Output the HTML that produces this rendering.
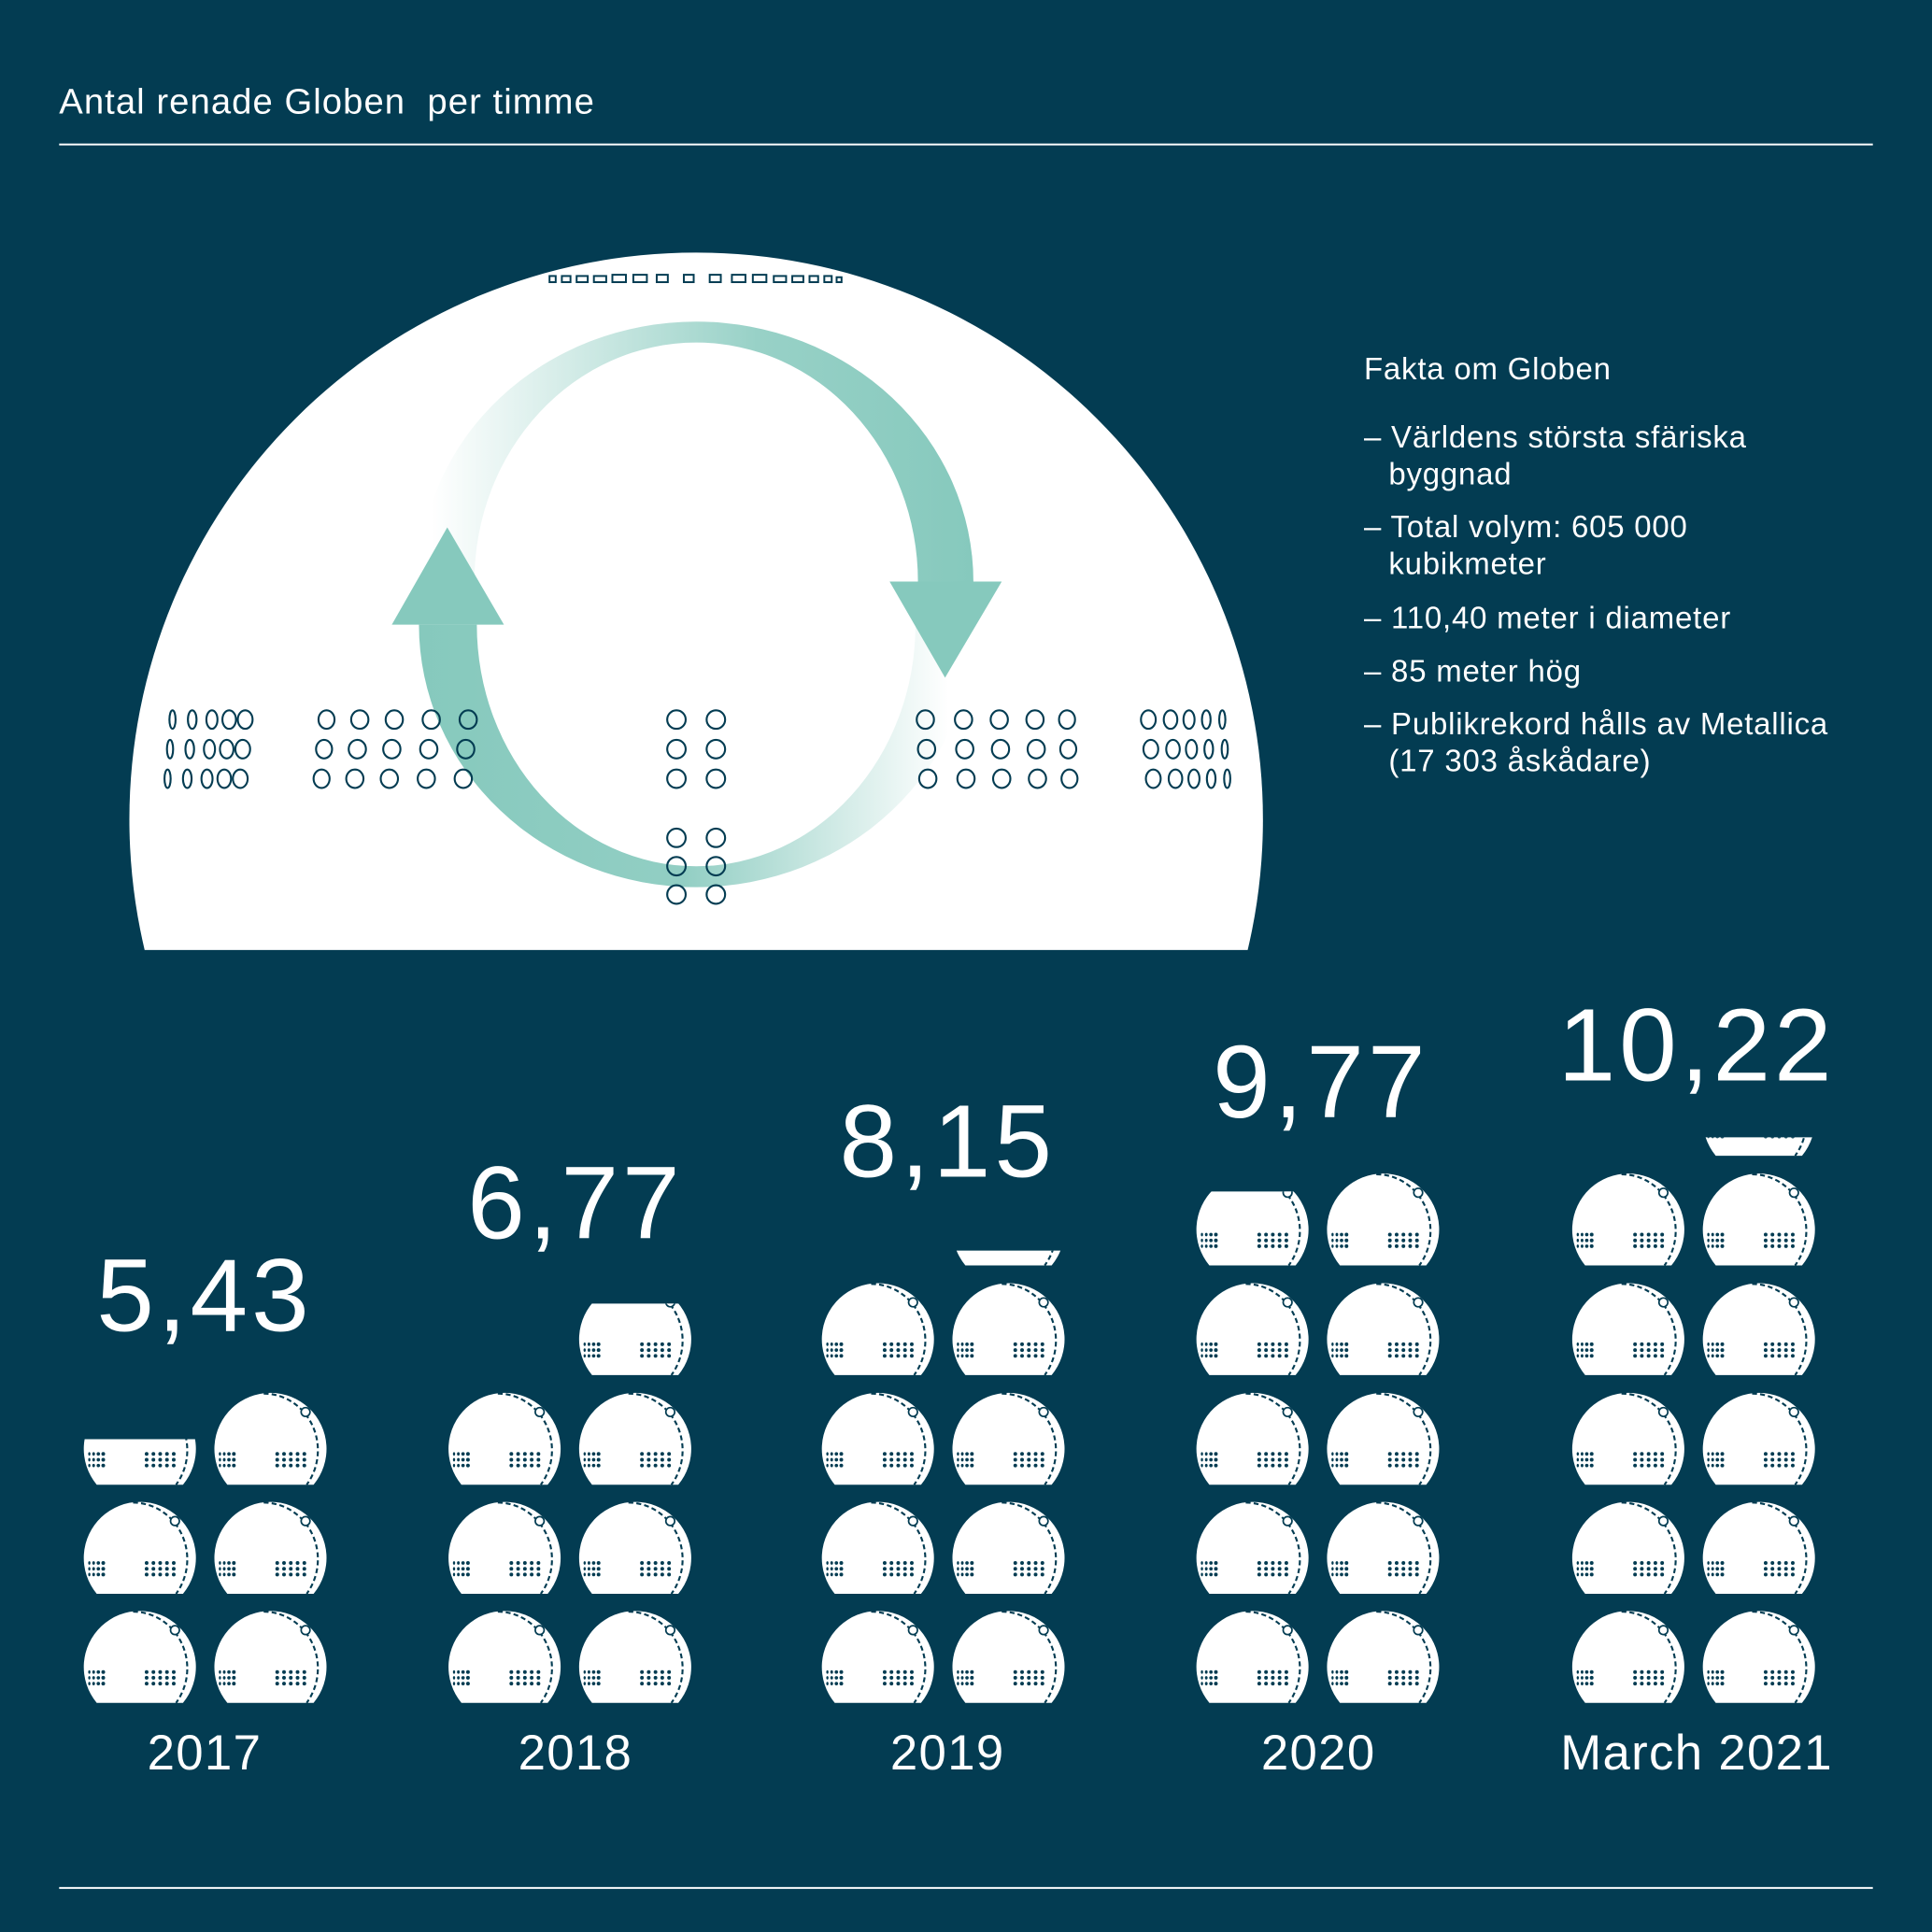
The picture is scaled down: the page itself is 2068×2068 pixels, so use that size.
<!DOCTYPE html>
<html><head><meta charset="utf-8"><style>
html,body{margin:0;padding:0;background:#033c52;}
svg{display:block}
text{font-family:"Liberation Sans",sans-serif;fill:#fff}
</style></head><body>
<svg width="2068" height="2068" viewBox="0 0 1568 1568" xmlns="http://www.w3.org/2000/svg">
<defs>
<g id="ic">
 <path d="M10.5 75 A45.5 45.5 0 1 1 80.5 75 Z" fill="#fff"/>
 <path d="M40 1 A44 46 0 0 1 74.9 75" fill="none" stroke="#033c52" stroke-width="1.6" stroke-dasharray="4 2.5"/>
 <circle cx="74" cy="16" r="3.6" fill="#fff" stroke="#033c52" stroke-width="1.3"/>
 <g fill="#033c52">
  <ellipse cx="4.5" cy="50" rx="0.9" ry="1.4"/><ellipse cx="8" cy="50" rx="1.1" ry="1.4"/><circle cx="11.8" cy="50" r="1.4"/><circle cx="15.8" cy="50" r="1.5"/>
  <ellipse cx="4.5" cy="54.7" rx="0.9" ry="1.4"/><ellipse cx="8" cy="54.7" rx="1.1" ry="1.4"/><circle cx="11.8" cy="54.7" r="1.4"/><circle cx="15.8" cy="54.7" r="1.5"/>
  <ellipse cx="4.5" cy="59.4" rx="0.9" ry="1.4"/><ellipse cx="8" cy="59.4" rx="1.1" ry="1.4"/><circle cx="11.8" cy="59.4" r="1.4"/><circle cx="15.8" cy="59.4" r="1.5"/>
  <circle cx="51" cy="50" r="1.5"/><circle cx="56.5" cy="50" r="1.5"/><circle cx="62" cy="50" r="1.5"/><circle cx="67.5" cy="50" r="1.5"/><circle cx="73" cy="50" r="1.5"/>
  <circle cx="51" cy="54.7" r="1.5"/><circle cx="56.5" cy="54.7" r="1.5"/><circle cx="62" cy="54.7" r="1.5"/><circle cx="67.5" cy="54.7" r="1.5"/><circle cx="73" cy="54.7" r="1.5"/>
  <circle cx="51" cy="59.4" r="1.5"/><circle cx="56.5" cy="59.4" r="1.5"/><circle cx="62" cy="59.4" r="1.5"/><circle cx="67.5" cy="59.4" r="1.5"/><circle cx="73" cy="59.4" r="1.5"/>
 </g>
</g>
<clipPath id="c1" clipPathUnits="userSpaceOnUse"><rect x="0" y="1168" width="400" height="100"/></clipPath>
<clipPath id="c2" clipPathUnits="userSpaceOnUse"><rect x="0" y="1058" width="1568" height="100"/></clipPath>
<clipPath id="c3" clipPathUnits="userSpaceOnUse"><rect x="0" y="1015" width="1568" height="100"/></clipPath>
<clipPath id="c4" clipPathUnits="userSpaceOnUse"><rect x="0" y="967" width="1568" height="100"/></clipPath>
<clipPath id="c5" clipPathUnits="userSpaceOnUse"><rect x="0" y="923" width="1568" height="100"/></clipPath>
<clipPath id="dome" clipPathUnits="userSpaceOnUse"><rect x="0" y="0" width="1568" height="771"/></clipPath>
<clipPath id="topHalf" clipPathUnits="userSpaceOnUse"><rect x="300" y="200" width="560" height="272"/></clipPath>
<clipPath id="botHalf" clipPathUnits="userSpaceOnUse"><rect x="300" y="507" width="560" height="260"/></clipPath>
<linearGradient id="gTop" gradientUnits="userSpaceOnUse" x1="790" y1="0" x2="350" y2="0">
 <stop offset="0" stop-color="#86c9bd"/><stop offset="0.4" stop-color="#86c9bd" stop-opacity="0.85"/><stop offset="1" stop-color="#86c9bd" stop-opacity="0"/>
</linearGradient>
<linearGradient id="gBot" gradientUnits="userSpaceOnUse" x1="340" y1="0" x2="770" y2="0">
 <stop offset="0" stop-color="#86c9bd"/><stop offset="0.5" stop-color="#86c9bd" stop-opacity="0.9"/><stop offset="1" stop-color="#86c9bd" stop-opacity="0"/>
</linearGradient>
</defs>

<rect width="1568" height="1568" fill="#033c52"/>
<text x="48" y="92" font-size="29" letter-spacing="0.8">Antal renade Globen&#160; per timme</text>
<rect x="48" y="116.5" width="1472" height="1.5" fill="#fff"/>
<rect x="48" y="1531.5" width="1472" height="1.5" fill="#fff"/>

<!-- dome -->
<circle cx="565" cy="665" r="460" fill="#fff" clip-path="url(#dome)"/>
<g fill="none" stroke="#033c52" stroke-width="1.5">
 <rect x="446" y="224" width="5" height="5"/><rect x="456" y="224" width="7" height="5"/><rect x="468" y="224" width="9" height="5"/><rect x="482" y="224" width="10" height="5"/><rect x="497" y="223" width="11" height="6"/><rect x="514" y="223" width="11" height="6"/><rect x="533" y="223" width="9" height="6"/><rect x="555" y="223" width="8" height="6"/><rect x="576" y="223" width="9" height="6"/><rect x="594" y="223" width="11" height="6"/><rect x="611" y="223" width="11" height="6"/><rect x="628" y="224" width="10" height="5"/><rect x="643" y="224" width="9" height="5"/><rect x="657" y="224" width="7" height="5"/><rect x="669" y="224" width="6" height="5"/><rect x="679" y="225" width="4" height="4"/>
</g>
<!-- arrows (crescent shapes) -->
<path clip-path="url(#topHalf)" fill-rule="evenodd" fill="url(#gTop)"
 d="M340 472 A225 211 0 1 1 790 472 A225 211 0 1 1 340 472 Z M385 472 A180 194 0 1 0 745 472 A180 194 0 1 0 385 472 Z"/>
<path clip-path="url(#botHalf)" fill-rule="evenodd" fill="url(#gBot)"
 d="M340 507 A225 213 0 1 1 790 507 A225 213 0 1 1 340 507 Z M387 507 A178 196 0 1 0 743 507 A178 196 0 1 0 387 507 Z"/>
<polygon points="363,428 318,507 409,507" fill="#86c9bd"/>
<polygon points="722,472 813,472 767,550" fill="#86c9bd"/>
<!-- windows -->
<g fill="none" stroke="#033c52" stroke-width="1.6">
 <g id="fl">
  <ellipse cx="140" cy="584" rx="2.5" ry="7.5"/><ellipse cx="156" cy="584" rx="3.5" ry="7.5"/><ellipse cx="172" cy="584" rx="4.5" ry="7.5"/><ellipse cx="186" cy="584" rx="5.5" ry="7.5"/><ellipse cx="199" cy="584" rx="6" ry="7.5"/>
 </g>
 <use href="#fl" x="-2" y="24"/><use href="#fl" x="-4" y="48"/>
 <g id="fr">
  <ellipse cx="932" cy="584" rx="6" ry="7.5"/><ellipse cx="950" cy="584" rx="5.5" ry="7.5"/><ellipse cx="965" cy="584" rx="4.5" ry="7.5"/><ellipse cx="979" cy="584" rx="3.5" ry="7.5"/><ellipse cx="992" cy="584" rx="2.5" ry="7.5"/>
 </g>
 <use href="#fr" x="2" y="24"/><use href="#fr" x="4" y="48"/>
 <g id="gl">
  <ellipse cx="265" cy="584" rx="6.5" ry="7.5"/><ellipse cx="292" cy="584" rx="7" ry="7.5"/><ellipse cx="320" cy="584" rx="7" ry="7.5"/><ellipse cx="350" cy="584" rx="7" ry="7.5"/><ellipse cx="380" cy="584" rx="7" ry="7.5"/>
 </g>
 <use href="#gl" x="-2" y="24"/><use href="#gl" x="-4" y="48"/>
 <g id="gr">
  <ellipse cx="751" cy="584" rx="7" ry="7.5"/><ellipse cx="782" cy="584" rx="7" ry="7.5"/><ellipse cx="811" cy="584" rx="7" ry="7.5"/><ellipse cx="840" cy="584" rx="7" ry="7.5"/><ellipse cx="866" cy="584" rx="6.5" ry="7.5"/>
 </g>
 <use href="#gr" x="1" y="24"/><use href="#gr" x="2" y="48"/>
 <g id="gc"><circle cx="549" cy="584" r="7.5"/><circle cx="581" cy="584" r="7.5"/></g>
 <use href="#gc" y="24"/><use href="#gc" y="48"/><use href="#gc" y="96"/><use href="#gc" y="119"/><use href="#gc" y="142"/>
</g>

<!-- facts -->
<g font-size="25" letter-spacing="0.6">
 <text x="1107" y="308">Fakta om Globen</text>
 <text x="1107" y="363">– Världens största sfäriska</text>
 <text x="1127" y="393">byggnad</text>
 <text x="1107" y="436">– Total volym: 605 000</text>
 <text x="1127" y="466">kubikmeter</text>
 <text x="1107" y="510">– 110,40 meter i diameter</text>
 <text x="1107" y="553">– 85 meter hög</text>
 <text x="1107" y="596">– Publikrekord hålls av Metallica</text>
 <text x="1127" y="626">(17 303 åskådare)</text>
</g>

<!-- numbers -->
<g font-size="84" text-anchor="middle" letter-spacing="3">
 <text x="166" y="1080">5,43</text>
 <text x="467" y="1005">6,77</text>
 <text x="769" y="955">8,15</text>
 <text x="1072" y="907">9,77</text>
 <text x="1377" y="877">10,22</text>
</g>
<g font-size="40" text-anchor="middle" letter-spacing="1">
 <text x="166" y="1436">2017</text>
 <text x="467" y="1436">2018</text>
 <text x="769" y="1436">2019</text>
 <text x="1070" y="1436">2020</text>
 <text x="1377" y="1436">March 2021</text>
</g>

<!-- icons -->
<use href="#ic" x="68" y="1307"/><use href="#ic" x="174" y="1307"/>
<use href="#ic" x="68" y="1218.5"/><use href="#ic" x="174" y="1218.5"/>
<use href="#ic" x="174" y="1130"/>
<g clip-path="url(#c1)"><use href="#ic" x="68" y="1130"/></g>

<use href="#ic" x="364" y="1307"/><use href="#ic" x="470" y="1307"/>
<use href="#ic" x="364" y="1218.5"/><use href="#ic" x="470" y="1218.5"/>
<use href="#ic" x="364" y="1130"/><use href="#ic" x="470" y="1130"/>
<g clip-path="url(#c2)"><use href="#ic" x="470" y="1041"/></g>

<use href="#ic" x="667" y="1307"/><use href="#ic" x="773" y="1307"/>
<use href="#ic" x="667" y="1218.5"/><use href="#ic" x="773" y="1218.5"/>
<use href="#ic" x="667" y="1130"/><use href="#ic" x="773" y="1130"/>
<use href="#ic" x="667" y="1041"/><use href="#ic" x="773" y="1041"/>
<g clip-path="url(#c3)"><use href="#ic" x="773" y="952"/></g>

<use href="#ic" x="971" y="1307"/><use href="#ic" x="1077" y="1307"/>
<use href="#ic" x="971" y="1218.5"/><use href="#ic" x="1077" y="1218.5"/>
<use href="#ic" x="971" y="1130"/><use href="#ic" x="1077" y="1130"/>
<use href="#ic" x="971" y="1041"/><use href="#ic" x="1077" y="1041"/>
<use href="#ic" x="1077" y="952"/>
<g clip-path="url(#c4)"><use href="#ic" x="971" y="952"/></g>

<use href="#ic" x="1276" y="1307"/><use href="#ic" x="1382" y="1307"/>
<use href="#ic" x="1276" y="1218.5"/><use href="#ic" x="1382" y="1218.5"/>
<use href="#ic" x="1276" y="1130"/><use href="#ic" x="1382" y="1130"/>
<use href="#ic" x="1276" y="1041"/><use href="#ic" x="1382" y="1041"/>
<use href="#ic" x="1276" y="952"/><use href="#ic" x="1382" y="952"/>
<g clip-path="url(#c5)"><use href="#ic" x="1382" y="863"/></g>
</svg>
</body></html>
